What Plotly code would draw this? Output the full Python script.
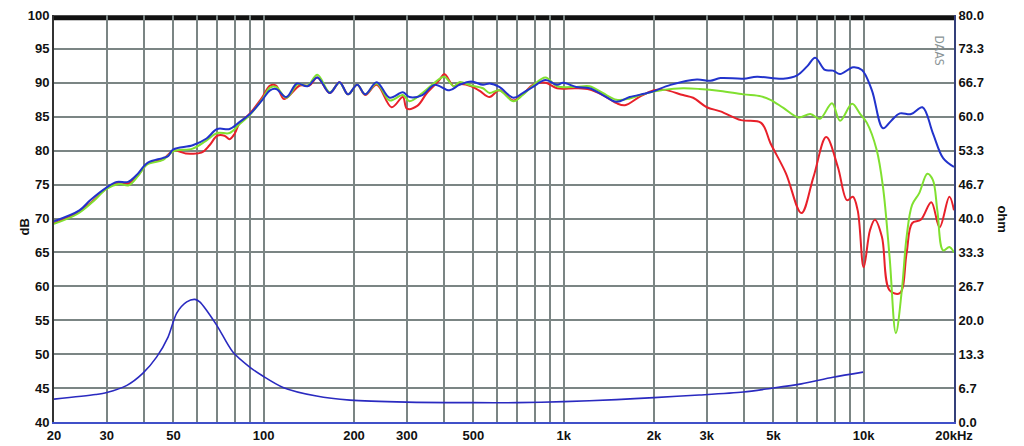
import plotly.graph_objects as go

# SPL curves (Hz, dB)
blue_hz = [20, 24.3, 26.4, 30, 32.4, 35.3, 37.7, 41, 46, 48, 50, 58, 64.5, 70, 77, 83, 90, 99, 105, 110,
           119, 129, 140, 151, 166, 179, 191, 205, 218, 238, 263, 291, 306, 338, 371, 416, 449, 492, 538,
           566, 610, 680, 730, 790, 870, 950, 995, 1100, 1220, 1350, 1500, 1660, 1940, 2270, 2780, 3080,
           3330, 3970, 4410, 5390, 6000, 6500, 6890, 7430, 7900, 8340, 9220, 9870, 10650, 11600, 12400,
           13200, 14400, 15700, 17000, 18400, 20000]
blue_db = [69.6, 71.2, 72.7, 74.6, 75.4, 75.4, 76.4, 78.2, 78.9, 79.2, 80.2, 80.8, 81.8, 83.2, 83.2, 84.2,
           85.4, 87.5, 88.9, 89.1, 87.9, 89.9, 89.5, 90.8, 88.5, 90.1, 88.3, 89.7, 88.3, 90.1, 87.8, 88.6,
           87.9, 88.2, 89.7, 88.9, 89.7, 90.2, 89.7, 89.9, 89.4, 87.8, 88.5, 89.4, 90.4, 89.7, 90.0, 89.4,
           89.2, 88.2, 87.2, 87.9, 88.6, 89.7, 90.5, 90.3, 90.7, 90.6, 90.9, 90.6, 91.1, 92.5, 93.7, 91.9,
           91.8, 91.3, 92.3, 91.9, 88.9, 83.3, 84.5, 85.5, 85.4, 86.4, 82.6, 78.9, 77.6]

green_hz = [20, 24, 27, 30, 33, 35.5, 38, 41, 46, 50, 58, 64, 70, 77, 83, 90, 99, 105, 110, 119, 130, 140,
            151, 166, 179, 191, 205, 218, 238, 263, 291, 306, 338, 371, 400, 430, 449, 492, 538, 566, 610,
            680, 730, 790, 870, 950, 1100, 1220, 1350, 1500, 1660, 1800, 2180, 2500, 2830, 3330, 3970,
            4550, 4890, 5400, 6060, 6640, 7150, 7840, 8340, 9150, 9700, 10250, 11050, 11600, 12200, 12800,
            13400, 13900, 14500, 15300, 16300, 17000, 17600, 18400, 19300, 20000]
green_db = [69.2, 70.7, 72.5, 74.4, 75.1, 74.9, 76.2, 78.0, 78.6, 79.9, 80.3, 81.4, 82.6, 82.6, 83.9, 85.3,
            87.6, 89.3, 89.4, 87.8, 89.8, 89.6, 91.2, 88.6, 90.0, 88.3, 89.7, 88.3, 89.9, 87.4, 88.2, 87.3,
            88.5, 90.0, 90.9, 89.5, 90.1, 89.6, 89.2, 88.5, 88.9, 87.3, 88.2, 89.6, 90.8, 89.5, 89.4, 89.5,
            88.5, 87.5, 87.7, 88.2, 89.0, 89.2, 89.1, 88.8, 88.3, 88.0, 87.5, 86.3, 84.9, 85.4, 84.7, 87.0,
            84.4, 86.9, 85.5, 84.1, 80.1, 74.6, 64.3, 53.1, 59.4, 67.3, 72.0, 73.7, 76.6, 75.7, 71.2, 65.3,
            65.8, 65.0]

red_hz = [20, 24, 27, 30, 33, 35.5, 38, 41, 46, 50, 55, 62, 66, 70, 74, 77, 80, 83, 90, 99, 105, 110, 117,
          132, 142, 151, 166, 179, 191, 205, 218, 238, 267, 291, 300, 325, 350, 385, 400, 430, 449, 492,
          525, 566, 610, 680, 730, 790, 870, 950, 1100, 1220, 1350, 1500, 1600, 1800, 2000, 2150, 2500,
          2700, 3000, 3330, 3900, 4550, 4890, 5500, 6200, 6800, 7500, 8200, 8800, 9200, 9550, 10000,
          10500, 10900, 11500, 12200, 13200, 13900, 14500, 15500, 16800, 17900, 19300, 20000]
red_db = [69.3, 70.9, 72.6, 74.5, 75.3, 75.2, 76.3, 78.1, 78.7, 80.0, 79.6, 79.7, 80.8, 82.2, 82.2, 81.7,
          82.5, 84.0, 85.5, 87.9, 89.6, 89.6, 87.6, 89.6, 89.6, 90.8, 88.5, 90.1, 88.3, 89.7, 88.2, 89.7,
          86.4, 87.9, 86.2, 86.6, 88.5, 90.4, 91.3, 89.5, 89.8, 89.5, 88.8, 87.9, 88.9, 87.4, 88.3, 89.7,
          90.0, 89.2, 89.2, 89.0, 88.2, 87.0, 86.7, 88.0, 88.9, 89.0, 88.2, 87.8, 86.4, 85.8, 84.5, 84.1,
          81.1, 76.7, 70.8, 76.1, 82.0, 77.6, 72.7, 73.2, 71.2, 62.8, 68.3, 69.8, 67.3, 59.4, 59.0, 64.9,
          69.3, 69.8, 72.4, 68.7, 73.2, 71.2]

# impedance (Hz, ohm)
imp_hz = [20, 27.5, 30, 35, 39.6, 44, 48, 51.3, 55.4, 59, 61.2, 69.6, 78.8, 89.8, 99.6, 116, 150, 194,
          300, 500, 700, 1000, 1500, 2000, 2830, 3970, 4890, 6200, 7900, 9950]
imp_ohm = [4.5, 5.4, 5.8, 7.2, 9.6, 12.8, 16.7, 21.4, 23.6, 24.1, 23.6, 19.1, 13.8, 10.8, 9.0, 6.8, 5.1,
           4.3, 3.9, 3.8, 3.8, 4.0, 4.4, 4.8, 5.3, 5.9, 6.6, 7.5, 8.8, 9.8]

x_grid = [20, 30, 40, 50, 60, 70, 80, 90, 100, 200, 300, 400, 500, 600, 700, 800, 900, 1000,
          2000, 3000, 4000, 5000, 6000, 7000, 8000, 9000, 10000, 20000]
x_labels = ['20', '30', '', '50', '', '', '', '', '100', '200', '300', '', '500', '', '', '', '', '1k',
            '2k', '3k', '', '5k', '', '', '', '', '10k', '20kHz']
db_ticks = [40, 45, 50, 55, 60, 65, 70, 75, 80, 85, 90, 95, 100]
ohm_ticks = [0, 6.667, 13.333, 20, 26.667, 33.333, 40, 46.667, 53.333, 60, 66.667, 73.333, 80]
ohm_labels = ['0.0', '6.7', '13.3', '20.0', '26.7', '33.3', '40.0', '46.7', '53.3', '60.0', '66.7', '73.3', '80.0']

FAM = 'Liberation Sans, Arial, sans-serif'
tick_font = dict(family=FAM, size=13, color='#111111', weight='bold')
GRID = '#7b8584'

fig = go.Figure()
fig.add_trace(go.Scatter(x=red_hz, y=red_db, mode='lines', line=dict(color='#e8202a', width=2, shape='spline')))
fig.add_trace(go.Scatter(x=green_hz, y=green_db, mode='lines', line=dict(color='#80e030', width=2, shape='spline')))
fig.add_trace(go.Scatter(x=blue_hz, y=blue_db, mode='lines', line=dict(color='#2233cc', width=2, shape='spline')))
fig.add_trace(go.Scatter(x=imp_hz, y=imp_ohm, mode='lines', yaxis='y2',
                         line=dict(color='#2a2ac0', width=1.6, shape='spline', smoothing=0.8)))

# page body has an 8px margin, so the figure is 8px smaller and margins shifted
fig.update_layout(
    width=1016, height=438,
    margin=dict(l=46, r=70, t=7, b=24),
    paper_bgcolor='white', plot_bgcolor='white',
    showlegend=False,
    font=dict(family=FAM, size=13, color='#111111'),
    xaxis=dict(type='log', range=[1.30103, 4.30103], tickvals=x_grid, ticktext=x_labels,
               showgrid=True, gridcolor=GRID, gridwidth=2, ticks='', automargin=False,
               ticklabeloverflow='allow',
               showline=True, linecolor='#4050c8', linewidth=2, tickfont=tick_font),
    yaxis=dict(range=[40, 100], tickvals=db_ticks, showgrid=True, gridcolor=GRID, gridwidth=2,
               zeroline=False, ticks='', automargin=False, showline=True, linecolor='#333333',
               ticklabeloverflow='allow', linewidth=2, tickfont=tick_font),
    yaxis2=dict(range=[0, 80], overlaying='y', side='right', tickvals=ohm_ticks, ticktext=ohm_labels,
                showgrid=False, zeroline=False, ticks='', automargin=False, showline=True,
                ticklabeloverflow='allow', linecolor='#34407a', linewidth=2, tickfont=tick_font),
)

# thick black band on top of the plot
fig.add_shape(type='line', xref='paper', yref='paper', x0=0, x1=1, y0=0.993, y1=0.993,
              line=dict(color='#111111', width=5), layer='below')

fig.add_annotation(text='dB', xref='paper', yref='paper', x=-0.043, y=0.48, textangle=-90,
                   showarrow=False, font=tick_font)
fig.add_annotation(text='ohm', xref='paper', yref='paper', x=1.064, y=0.5, textangle=90,
                   showarrow=False, font=tick_font)
fig.add_annotation(text='DAAS', xref='paper', yref='paper', x=0.993, y=0.955, textangle=90,
                   showarrow=False, font=dict(family='DejaVu Sans Condensed, sans-serif', size=12, color='#8a9496'))

fig.write_html("out.html")
